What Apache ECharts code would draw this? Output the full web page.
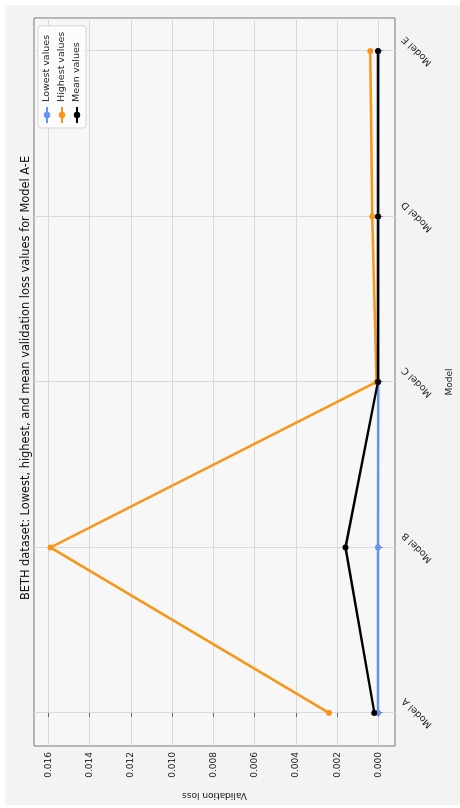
<!DOCTYPE html>
<html>
<head>
<meta charset="utf-8">
<script src="https://cdn.jsdelivr.net/npm/echarts@6/dist/echarts.min.js"></script>
<style>
html, body { margin: 0; padding: 0; width: 460px; height: 808px; overflow: hidden; background: #ffffff; }
/* The figure is laid out landscape (808 x 460) and turned a quarter turn counter-clockwise. */
#chart { position: absolute; left: 0; top: 0; width: 808px; height: 460px;
         transform-origin: 0 0; transform: translate(0, 808px) rotate(-90deg); }
</style>
</head>
<body>
<div id="chart"></div>
<script>
// Models compared and their validation loss statistics
const models = ['Model A', 'Model B', 'Model C', 'Model D', 'Model E'];
const lowestValues  = [0.00002, 0.00002, 0.00001, 0.00001, 0.00001];
const highestValues = [0.0024, 0.0159, 0.0001, 0.0003, 0.0004];
const meanValues    = [0.0002, 0.0016, 0.00003, 0.00003, 0.00003];
const lossTicks = [0, 0.002, 0.004, 0.006, 0.008, 0.010, 0.012, 0.014, 0.016];
const modelTicks = [0, 1, 2, 3, 4];

const FONT = 'DejaVu Sans';
const toPoints = vals => vals.map((v, i) => [i, v]);

function lineSeries(name, values, color) {
  return {
    name: name,
    type: 'line',
    data: toPoints(values),
    symbol: 'circle',
    symbolSize: 6,
    showAllSymbol: true,
    lineStyle: { color: color, width: 2.5 },
    itemStyle: { color: color },
    emphasis: { disabled: true },
    animation: false
  };
}

const chart = echarts.init(document.getElementById('chart'), null, { renderer: 'canvas' });
chart.setOption({
  animation: false,
  backgroundColor: '#ffffff',
  graphic: [{
    type: 'rect', z: -10, silent: true,
    shape: { x: 3, y: 5, width: 800, height: 455 },
    style: { fill: '#f3f3f3' }
  }],
  title: {
    text: 'BETH dataset: Lowest, highest, and mean validation loss values for Model A-E',
    left: 425, top: 16, textAlign: 'center',
    textStyle: { fontFamily: FONT, fontSize: 11.4, fontWeight: 'normal', color: '#111' }
  },
  grid: {
    left: 60, right: 18, top: 34, bottom: 65,
    show: true, backgroundColor: '#f7f7f7', borderColor: '#777', borderWidth: 1
  },
  legend: {
    orient: 'vertical', left: 680, top: 38,
    itemWidth: 16, itemHeight: 8, itemGap: 5,
    padding: [4, 6, 4, 4],
    backgroundColor: 'rgba(252,252,252,0.9)', borderColor: '#d4d4d4', borderWidth: 1, borderRadius: 3,
    textStyle: { fontFamily: FONT, fontSize: 9.5, color: '#222' },
    data: ['Lowest values', 'Highest values', 'Mean values']
  },
  xAxis: {
    type: 'value', min: -0.2, max: 4.2,
    name: 'Model', nameLocation: 'middle', nameGap: 50,
    nameTextStyle: { fontFamily: FONT, fontSize: 9, color: '#222' },
    axisLine: { show: false },
    axisTick: { show: true, length: 4, customValues: modelTicks, lineStyle: { color: '#666' } },
    axisLabel: {
      customValues: modelTicks, rotate: 45, align: 'center', verticalAlign: 'middle', margin: 22,
      fontFamily: FONT, fontSize: 9.5, color: '#222',
      formatter: v => models[Math.round(v)]
    },
    splitLine: { show: true, lineStyle: { color: '#d9d9d9', width: 1 } }
  },
  yAxis: {
    type: 'value', min: -0.0008, max: 0.0167,
    name: 'Validation loss', nameLocation: 'middle', nameGap: 45, nameRotate: 90,
    nameTextStyle: { fontFamily: FONT, fontSize: 9, color: '#222' },
    axisLine: { show: false },
    axisTick: { show: true, length: 4, customValues: lossTicks, lineStyle: { color: '#666' } },
    axisLabel: {
      customValues: lossTicks, margin: 6,
      fontFamily: FONT, fontSize: 9, color: '#222',
      formatter: v => v.toFixed(3)
    },
    splitLine: { show: true, lineStyle: { color: '#d9d9d9', width: 1 } }
  },
  series: [
    lineSeries('Lowest values', lowestValues, '#6495ed'),
    lineSeries('Highest values', highestValues, '#f8961a'),
    lineSeries('Mean values', meanValues, '#000000')
  ]
});
</script>
</body>
</html>
